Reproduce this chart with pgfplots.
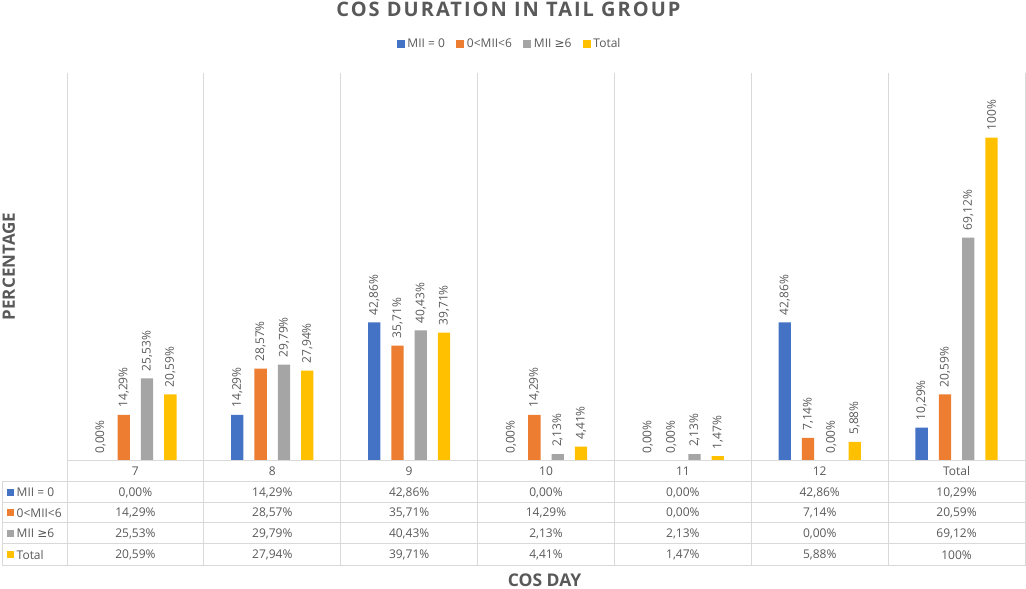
\documentclass[border=0pt]{standalone}
\usepackage{pgfplots}
\pgfplotsset{compat=1.18}
\usepackage{pgfplotstable}
\usepackage{fontspec}
\setmainfont{Open Sans}
\newfontfamily\spacedfont[LetterSpace=10]{Open Sans}
\newfontfamily\symfont{DejaVu Sans}
\definecolor{cblue}{HTML}{4472C4}
\definecolor{corange}{HTML}{ED7D31}
\definecolor{cgray}{HTML}{A5A5A5}
\definecolor{cgold}{HTML}{FFC000}
\definecolor{tgray}{HTML}{595959}
\definecolor{lgray}{HTML}{D9D9D9}
\pgfplotstableread{
x a la b lb c lc d ld
0 0 0,00 14.29 14,29 25.53 25,53 20.59 20,59
1 14.29 14,29 28.57 28,57 29.79 29,79 27.94 27,94
2 42.86 42,86 35.71 35,71 40.43 40,43 39.71 39,71
3 0 0,00 14.29 14,29 2.13 2,13 4.41 4,41
4 0 0,00 0 0,00 2.13 2,13 1.47 1,47
5 42.86 42,86 7.14 7,14 0 0,00 5.88 5,88
6 10.29 10,29 20.59 20,59 69.12 69,12 100 100
}\data
\newcommand{\fs}{\fontsize{12}{14}\selectfont}
\begin{document}
\begin{tikzpicture}[x=1pt,y=1pt]
\path[use as bounding box] (0pt,0pt) rectangle (1026pt,589pt);
\begin{axis}[
  at={(67pt,128pt)}, anchor=south west,
  scale only axis, width=958pt, height=388pt,
  xmin=-0.5, xmax=6.5, ymin=0, ymax=120,
  hide axis, clip=false,
  ybar=11pt, bar width=12.3pt,
  point meta=explicit symbolic,
  nodes near coords={\pgfplotspointmeta\%},
  every node near coord/.append style={rotate=90, anchor=west, font=\fs, text=tgray, inner xsep=7pt, inner ysep=0pt},
  legend image code/.code={\fill[#1] (0pt,-4pt) rectangle (8pt,4pt);},
  legend style={at={(0.4624,1.0747)}, anchor=center, draw=none, fill=none,
    legend columns=-1, font=\fs, text=tgray,
    /tikz/every even column/.append style={column sep=9pt},
    nodes={inner xsep=2.5pt}},
]
\addplot[fill=cblue, draw=none] table[x=x,y=a,meta=la]{\data};
\addplot[fill=corange, draw=none] table[x=x,y=b,meta=lb]{\data};
\addplot[fill=cgray, draw=none] table[x=x,y=c,meta=lc]{\data};
\addplot[fill=cgold, draw=none] table[x=x,y=d,meta=ld]{\data};
\legend{MII = 0, 0<MII<6, MII {\symfont ≥}6, Total}
\end{axis}
% grid lines and data table
\begin{scope}[draw=lgray, line width=1pt]
\foreach \k in {0,...,7} {\draw ({67+136.857*\k},516) -- ({67+136.857*\k},23);}
\draw (67,128) -- (1025,128);
\foreach \yy in {107,86,66,45,23} {\draw (2,\yy) -- (1025,\yy);}
\draw (2,107) -- (2,23);
\end{scope}
\foreach \lab [count=\i from 0] in {7,8,9,10,11,12,Total}
  {\node[font=\fs, text=tgray] at ({67+136.857*(\i+0.5)},117.5) {\lab};}
\foreach \col/\yy in {la/96.5, lb/76, lc/55.5, ld/34} {
  \foreach \i in {0,...,6} {
    \pgfplotstablegetelem{\i}{\col}\of\data
    \node[font=\fs, text=tgray] at ({67+136.857*(\i+0.5)},\yy) {\pgfplotsretval\%};
  }
}
\foreach \c/\t/\yy in {cblue/{MII = 0}/96.5, corange/{0<MII<6}/76, cgray/{MII {\symfont ≥}6}/55.5, cgold/Total/34} {
  \fill[\c] (7,\yy-3.5) rectangle (14,\yy+3.5);
  \node[font=\fs, text=tgray, anchor=west, inner xsep=0pt] at (16.5,\yy) {\t};
}
% titles
\node[font=\spacedfont\bfseries\fontsize{20}{23}\selectfont, text=tgray, anchor=base] at (508.5,572) {COS DURATION IN TAIL GROUP};
\node[font=\bfseries\fontsize{17.5}{20}\selectfont, text=tgray, anchor=base] at (544.5,2.5) {COS DAY};
\node[font=\bfseries\fontsize{17}{20}\selectfont, text=tgray, anchor=base, rotate=90] at (15,322.5) {PERCENTAGE};
\end{tikzpicture}
\end{document}
